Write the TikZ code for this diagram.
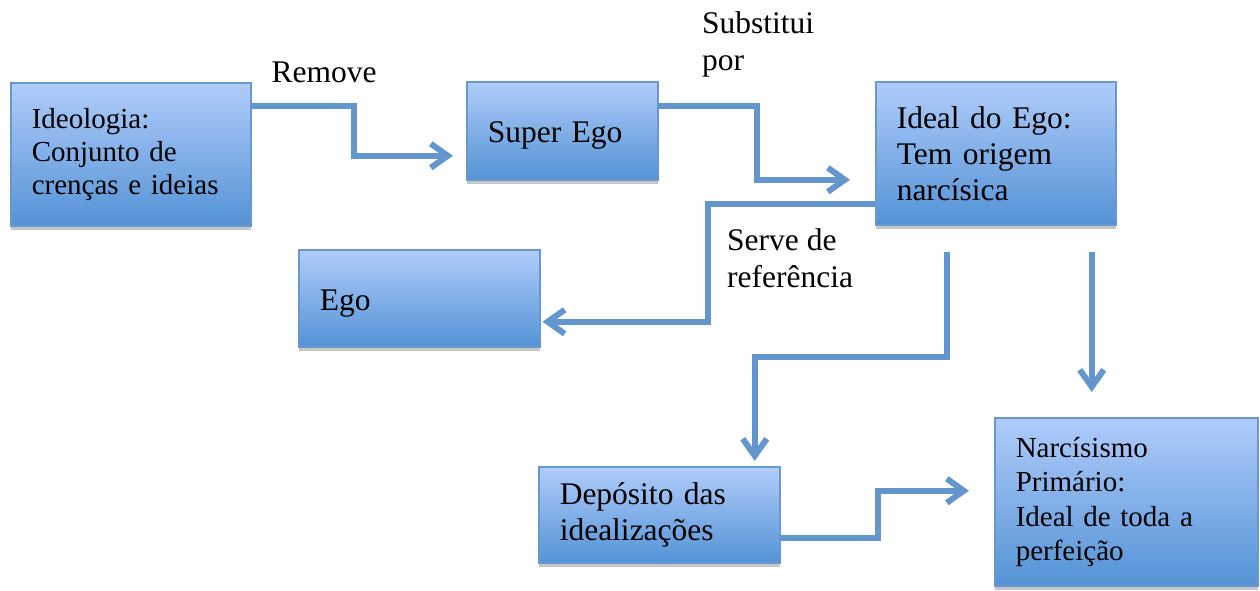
\documentclass[tikz,border=0pt]{standalone}
\usepackage{fontspec}
\setmainfont{Liberation Serif}
\usetikzlibrary{arrows.meta,shadows}
\definecolor{boxtop}{RGB}{176,204,250}
\definecolor{boxbot}{RGB}{84,147,214}
\definecolor{boxline}{RGB}{104,152,208}
\definecolor{flowcol}{RGB}{98,150,204}
\begin{document}
\begin{tikzpicture}[x=1pt,y=-1pt,
box/.style={draw=boxline,line width=1.5pt,top color=boxtop,bottom color=boxbot,anchor=north west,inner xsep=21pt,inner ysep=0pt,align=left,font=\fontsize{31.5}{36}\selectfont,drop shadow={shadow xshift=0pt,shadow yshift=-4pt,opacity=0.45}},
oneline/.style={text height=24pt,text depth=0pt},
flow/.style={draw=flowcol,line width=6pt,line join=miter,-{Straight Barb[length=17pt,width=24pt]}},
lbl/.style={align=left,inner sep=0pt,font=\fontsize{31.5}{37}\selectfont}]
\useasboundingbox (0,0) rectangle (1260,590);
\node[box,minimum width=240pt,minimum height=143pt,text width=198pt,font=\fontsize{29}{33}\selectfont] (ideo) at (10,82) {Ideologia:\\Conjunto de\\crenças e ideias};
\node[box,oneline,minimum width=191pt,minimum height=98pt,text width=149pt] (super) at (466,81) {Super Ego};
\node[box,minimum width=240pt,minimum height=143pt,text width=198pt] (ideal) at (875,81) {Ideal do Ego:\\Tem origem\\narcísica};
\node[box,oneline,minimum width=241pt,minimum height=97pt,text width=199pt] (ego) at (298,249) {Ego};
\node[box,minimum width=241pt,minimum height=96pt,text width=199pt] (depo) at (538,466) {Depósito das\\idealizações};
\node[box,minimum width=263pt,minimum height=168pt,text width=221pt,font=\fontsize{29}{34.5}\selectfont] (narc) at (994,417) {Narcísismo\\Primário:\\Ideal de toda a\\perfeição};
\node[lbl] (remove) at (324,72) {Remove};
\node[lbl,anchor=west] (subst) at (702,44) {Substitui\\por};
\node[lbl,anchor=west] (serve) at (727,258) {Serve de\\referência};
\coordinate (drop1) at ([xshift=-49pt,yshift=-26pt]ideal.south);
\coordinate (drop2) at ([xshift=96pt,yshift=-26pt]ideal.south);
\draw[flow] ([yshift=-24pt]ideo.north east) -- ++(102,0) |- ([xshift=-13pt,yshift=-25pt]super.west);
\draw[flow] ([yshift=-25pt]super.north east) -- ++(98,0) |- ([xshift=-25pt,yshift=-26.5pt]ideal.west);
\draw[flow] ([yshift=-51pt]ideal.west) -- ++(-167,0) |- ([xshift=2pt,yshift=-23.5pt]ego.east);
\draw[flow] (drop1) -- ++(0,105) -| ([xshift=95.5pt,yshift=5pt]depo.north);
\draw[flow] (drop2) -- ([xshift=-34.5pt,yshift=25pt]narc.north);
\draw[flow] ([yshift=-72pt]depo.north east) -- ++(97,0) |- ([xshift=-25pt,yshift=11pt]narc.west);
\end{tikzpicture}
\end{document}
